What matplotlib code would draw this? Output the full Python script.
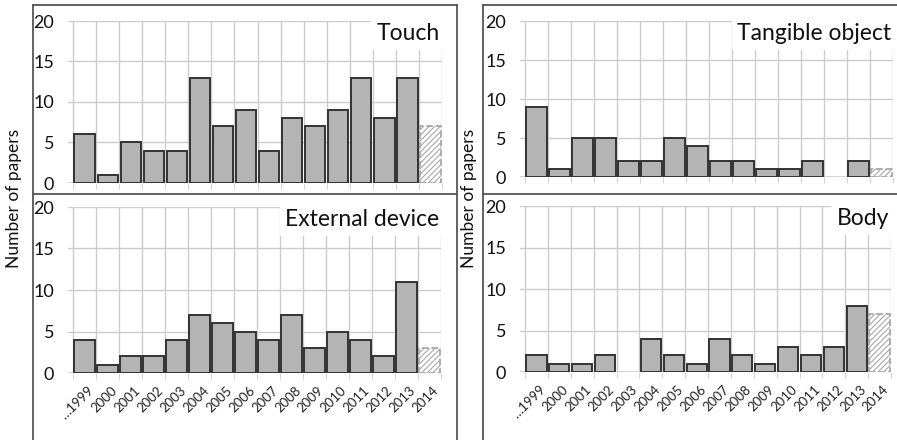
import matplotlib
matplotlib.use('Agg')
import matplotlib.pyplot as plt
from matplotlib.lines import Line2D
from matplotlib.transforms import ScaledTranslation
import numpy as np

plt.rcParams['font.family'] = ['Lato', 'DejaVu Sans']
plt.rcParams['hatch.linewidth'] = 0.8

years = ['\u20261999', '2000', '2001', '2002', '2003', '2004', '2005', '2006',
         '2007', '2008', '2009', '2010', '2011', '2012', '2013', '2014']

touch = [6, 1, 5, 4, 4, 13, 7, 9, 4, 8, 7, 9, 13, 8, 13, 7]
tangible = [9, 1, 5, 5, 2, 2, 5, 4, 2, 2, 1, 1, 2, 0, 2, 1]
external = [4, 1, 2, 2, 4, 7, 6, 5, 4, 7, 3, 5, 4, 2, 11, 3]
body = [2, 1, 1, 2, 0, 4, 2, 1, 4, 2, 1, 3, 2, 3, 8, 7]

W, H = 897, 440
fig = plt.figure(figsize=(W / 100, H / 100), dpi=100)


def px_axes(left, right, top, bottom):
    return fig.add_axes([left / W, 1 - bottom / H, (right - left) / W, (bottom - top) / H])


def draw_panel(ax, vals, title, show_years):
    x = np.arange(len(vals))
    v = np.array(vals, dtype=float)
    ax.set_xlim(-0.72, len(vals) - 0.5)
    ax.set_ylim(0, 20)
    # gridlines
    for yv in [5, 10, 15, 20]:
        ax.axhline(yv, color='#cccccc', lw=1.0, zorder=0)
    for b in np.arange(-0.5, len(vals), 1.0):
        ax.plot([b, b], [0, 20], color='#cccccc', lw=1.0, zorder=0)
    ax.axhline(0, color='#cccccc', lw=1.2, zorder=0)
    # bars (last year is partial -> hatched); empty years get no bar
    full = v[:-1] > 0
    ax.bar(x[:-1][full], v[:-1][full], width=0.88, color='#b4b4b4', edgecolor='#333333',
           linewidth=1.4, zorder=3)
    ax.bar(x[-1], v[-1], width=0.88, color='white', edgecolor='#a8a8a8',
           linewidth=1.3, linestyle='--', hatch='//////', zorder=3)
    for s in ax.spines.values():
        s.set_visible(False)
    ax.set_yticks([0, 5, 10, 15, 20])
    ax.tick_params(axis='y', length=0, pad=10, labelsize=13, colors='#111111')
    ax.set_xticks(np.arange(-0.5, len(vals), 1.0), minor=True)
    ax.tick_params(axis='x', which='minor', length=4, color='#cccccc', direction='out')
    if show_years:
        ax.set_xticks(x)
        ax.set_xticklabels(years, rotation=45, ha='right', rotation_mode='anchor',
                           fontsize=9.5, color='#222222')
        ax.tick_params(axis='x', which='major', length=0, pad=8)
        shift = ScaledTranslation(3 / 100, 0, fig.dpi_scale_trans)
        for lab in ax.get_xticklabels():
            lab.set_transform(lab.get_transform() + shift)
    else:
        ax.set_xticks([])
    ax.text(0.995, 0.985, title, transform=ax.transAxes, ha='right', va='top',
            fontsize=16.5, color='#111111', zorder=5,
            bbox=dict(facecolor='white', edgecolor='none', pad=4))


ax1 = px_axes(68, 442, 21, 183)
draw_panel(ax1, touch, 'Touch', False)
ax2 = px_axes(520, 893, 21, 177)
draw_panel(ax2, tangible, 'Tangible object', False)
ax3 = px_axes(68, 441, 207, 373)
draw_panel(ax3, external, 'External device', True)
ax4 = px_axes(520, 891, 206, 372)
draw_panel(ax4, body, 'Body', True)

# outer frames
frame_col = '#555555'


def fline(xs, ys):
    fig.add_artist(Line2D([p / W for p in xs], [1 - p / H for p in ys],
                          color=frame_col, lw=1.3))


fline([33, 33], [5, 440])
fline([33, 457], [5, 5])
fline([457, 457], [5, 440])
fline([33, 457], [194, 194])
fline([483, 483], [5, 440])
fline([483, 897], [5, 5])
fline([483, 897], [194, 194])

fig.text(14 / W, 1 - 198 / H, 'Number of papers', rotation=90, ha='center', va='center',
         fontsize=12.5, color='#111111')
fig.text(469 / W, 1 - 198 / H, 'Number of papers', rotation=90, ha='center', va='center',
         fontsize=12.5, color='#111111')

fig.savefig('out.png', dpi=100)
